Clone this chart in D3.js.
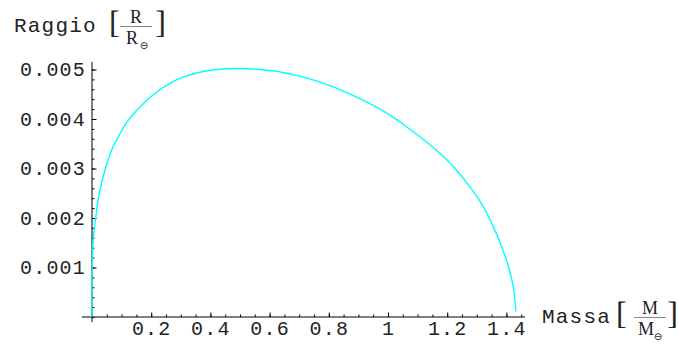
<!DOCTYPE html>
<html>
<meta charset="utf-8">
<style>
  body { margin: 0; background: #fff; }
  text { fill: #222; }
</style>
<script src="https://d3js.org/d3.v7.min.js"></script>
<body>
<script>
  var svgWidth = 678, svgHeight = 345;

  // white dwarf mass-radius curve
  var mass   = [0, 0.001, 0.006, 0.016, 0.027, 0.044, 0.066, 0.095, 0.123, 0.168, 0.213, 0.269, 0.314, 0.376,
                0.44, 0.5, 0.568, 0.646, 0.736, 0.815, 0.939, 1.007, 1.052, 1.108, 1.164, 1.221, 1.277, 1.322,
                1.356, 1.384, 1.407, 1.423, 1.432];
  var radius = [0, 0.00115, 0.00169, 0.00216, 0.00257, 0.00297, 0.00337, 0.00371, 0.00398, 0.00428, 0.00452,
                0.00474, 0.00486, 0.00496, 0.00501, 0.00502, 0.00500, 0.00494, 0.00481, 0.00465, 0.00431,
                0.00408, 0.00389, 0.00364, 0.00337, 0.00304, 0.00263, 0.00223, 0.00182, 0.00142, 0.00102,
                0.00061, 0.00011];

  var xTicks = [0.2, 0.4, 0.6, 0.8, 1, 1.2, 1.4];
  var xTickLabels = ["0.2", "0.4", "0.6", "0.8", "1", "1.2", "1.4"];
  var yTicks = [0.001, 0.002, 0.003, 0.004, 0.005];
  var yTickLabels = ["0.001", "0.002", "0.003", "0.004", "0.005"];

  var svg = d3.select("body")
    .append("svg")
    .attr("width", svgWidth)
    .attr("height", svgHeight);

  var x = d3.scaleLinear().domain([0, 1]).range([92, 388]);
  var y = d3.scaleLinear().domain([0, 0.005]).range([317, 69.5]);

  var tickFont = "Liberation Mono, DejaVu Sans Mono, monospace";
  var serif = "Liberation Serif, serif";

  // axis lines
  svg.append("line")
    .attr("x1", x(-0.034)).attr("x2", x(1.463))
    .attr("y1", y(0)).attr("y2", y(0))
    .attr("stroke", "#000").attr("stroke-width", 1);
  svg.append("line")
    .attr("x1", x(0)).attr("x2", x(0))
    .attr("y1", y(-0.0001)).attr("y2", y(0.00515))
    .attr("stroke", "#000").attr("stroke-width", 1);

  // minor ticks
  var xMinor = d3.range(0, 1.46, 0.05);
  var yMinor = d3.range(0, 0.00515, 0.0002);

  svg.append("g")
    .attr("transform", "translate(0," + y(0) + ")")
    .call(d3.axisBottom(x).tickValues(xMinor).tickSizeInner(-2.5).tickSizeOuter(0).tickFormat(""))
    .call(function(g){ g.select(".domain").remove(); });

  svg.append("g")
    .attr("transform", "translate(" + x(0) + ",0)")
    .call(d3.axisLeft(y).tickValues(yMinor).tickSizeInner(-2.5).tickSizeOuter(0).tickFormat(""))
    .call(function(g){ g.select(".domain").remove(); });

  // major ticks + labels
  var xAxis = svg.append("g")
    .attr("transform", "translate(0," + y(0) + ")")
    .call(d3.axisBottom(x).tickValues(xTicks).tickSizeInner(-4.5).tickSizeOuter(0).tickPadding(4)
      .tickFormat(function(d, i){ return xTickLabels[i]; }));
  xAxis.select(".domain").remove();

  var yAxis = svg.append("g")
    .attr("transform", "translate(" + x(0) + ",0)")
    .call(d3.axisLeft(y).tickValues(yTicks).tickSizeInner(-4.5).tickSizeOuter(0).tickPadding(6)
      .tickFormat(function(d, i){ return yTickLabels[i]; }));
  yAxis.select(".domain").remove();

  svg.selectAll(".tick line").attr("stroke", "#000");
  svg.selectAll(".tick text")
    .style("font-family", tickFont)
    .style("font-size", "20px")
    .style("letter-spacing", "1.2px")
    .attr("fill", "#333");

  // curve
  var line = d3.line()
    .x(function(d, i){ return x(mass[i]); })
    .y(function(d, i){ return y(radius[i]); })
    .curve(d3.curveCatmullRom.alpha(0.5));

  svg.append("path")
    .datum(mass)
    .attr("d", line)
    .attr("fill", "none")
    .attr("stroke", "#00ffff")
    .attr("stroke-width", 1.4);

  // axis labels with a fraction in brackets
  function axisLabel(word, wx, base, fx, lb, rb, sym) {
    var g = svg.append("g");
    g.append("text")
      .attr("x", wx).attr("y", base)
      .style("font-family", tickFont)
      .style("font-size", "21px")
      .style("letter-spacing", "1.2px")
      .attr("fill", "#333")
      .text(word);
    g.append("text").attr("x", lb).attr("y", base + 1)
      .style("font-family", serif).style("font-size", "32px")
      .attr("fill", "#666").text("[");
    g.append("text").attr("x", rb).attr("y", base + 1)
      .attr("text-anchor", "end")
      .style("font-family", serif).style("font-size", "32px")
      .attr("fill", "#666").text("]");
    g.append("text").attr("x", fx).attr("y", base - 9.5)
      .attr("text-anchor", "middle")
      .style("font-family", serif).style("font-size", "18px")
      .attr("fill", "#333")
      .text(sym);
    g.append("line")
      .attr("x1", fx - 16).attr("x2", fx + 16)
      .attr("y1", base - 5.5).attr("y2", base - 5.5)
      .attr("stroke", "#888").attr("stroke-width", 1);
    g.append("text").attr("x", fx - 4).attr("y", base + 12)
      .attr("text-anchor", "middle")
      .style("font-family", serif).style("font-size", "18px")
      .attr("fill", "#333")
      .text(sym);
    g.append("text").attr("x", fx + 8).attr("y", base + 16.5)
      .attr("text-anchor", "middle")
      .style("font-family", "DejaVu Sans, sans-serif").style("font-size", "10px")
      .attr("fill", "#555")
      .text("\u2296");
  }

  axisLabel("Raggio", 14, 32, 136, 109, 166, "R");
  axisLabel("Massa", 542, 323, 650, 616, 678, "M");
</script>
</body>
</html>
